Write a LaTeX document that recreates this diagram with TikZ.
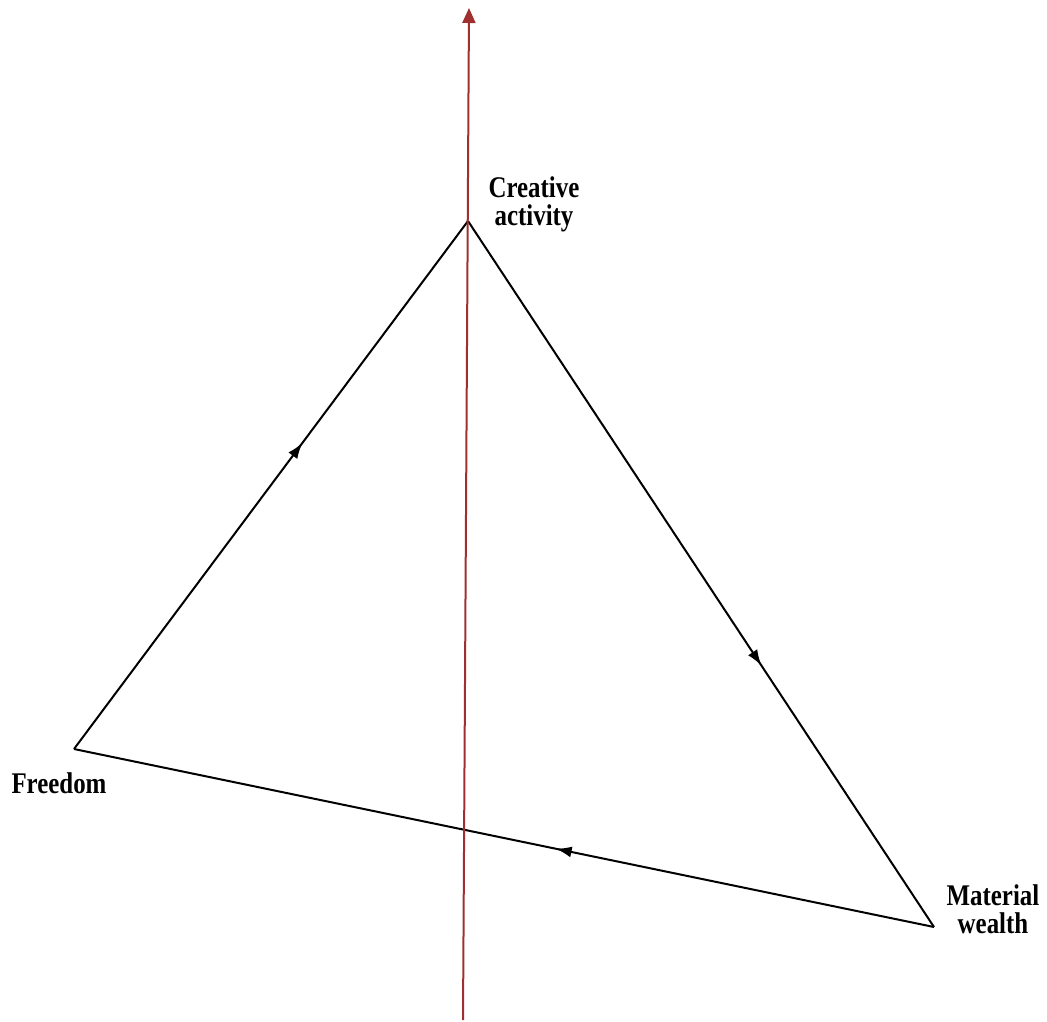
\documentclass[tikz,border=0pt]{standalone}
\usepackage{fontspec}
\setmainfont{Liberation Serif}[FakeStretch=0.83]
\usetikzlibrary{arrows.meta,decorations.markings}
\definecolor{axisred}{RGB}{160,48,48}
\begin{document}
\begin{tikzpicture}[x=1bp,y=-1bp,
  lbl/.style={font=\fontsize{30bp}{28bp}\selectfont\bfseries,align=center,inner sep=0pt},
  edge/.style={line width=2bp,black},
  midarrow/.style={postaction={decorate},decoration={markings,mark=at position #1 with {\arrow{Latex[length=16bp,width=11bp]}}}}]
\useasboundingbox (0,0) rectangle (1047,1022);
\coordinate (C) at (468,221);
\coordinate (F) at (74,749);
\coordinate (M) at (934,927);
\coordinate (axb) at (463,1020);
\coordinate (axt) at (469,8);
\draw[edge,midarrow=0.58] (F) -- (C);
\draw[edge,midarrow=0.63] (C) -- (M);
\draw[edge,midarrow=0.44] (M) -- (F);
\draw[line width=2bp,axisred,-{Triangle[length=15bp,width=13bp]}] (axb) -- (axt);
\node[lbl,anchor=base] (lc) at (534,225) {Creative\\activity};
\node[lbl,anchor=base] (lf) at (59,793) {Freedom};
\node[lbl,anchor=base] (lm) at (993,933) {Material\\wealth};
\end{tikzpicture}
\end{document}
